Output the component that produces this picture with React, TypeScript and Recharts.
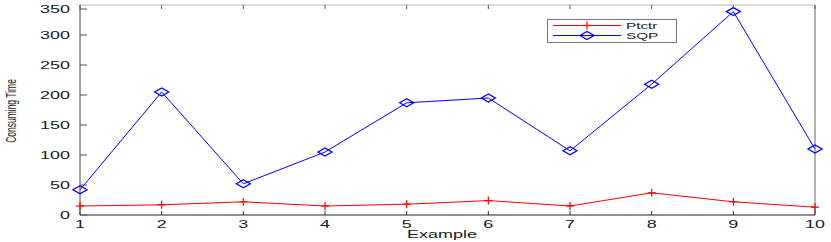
import { Legend, Line, LineChart, XAxis, YAxis } from 'recharts'

const examples = [1, 2, 3, 4, 5, 6, 7, 8, 9, 10]
const ptctr = [15, 17, 22, 15, 18, 24, 15, 37, 22, 13]
const sqp = [42, 205, 52, 105, 187, 195, 107, 218, 339, 110]
const yTicks = [0, 50, 100, 150, 200, 250, 300, 350]

const data = examples.map((x, i) => ({ x, ptctr: ptctr[i], sqp: sqp[i] }))

const FONT = '"Liberation Sans", Arial, sans-serif'
const INK = '#1a1a1a'
const SX = 1.8

function Stretched({ x, y, anchor, size, children, rotate }: any) {
  return (
    <g transform={`translate(${x},${y}) scale(${SX},1)${rotate ? ' rotate(-90)' : ''}`}>
      <text textAnchor={anchor} fontSize={size} fontFamily={FONT} fill={INK}>
        {children}
      </text>
    </g>
  )
}

const LeftTick = ({ x, y, payload }: any) => (
  <g>
    <line x1={x} x2={x + 7} y1={y} y2={y} stroke="#555" />
    <Stretched x={x - 10} y={y + 3.5} anchor="end" size={10}>{payload.value}</Stretched>
  </g>
)

const BottomTick = ({ x, y, payload }: any) => (
  <g>
    <line x1={x} x2={x} y1={y} y2={y - 4} stroke="#333" />
    <Stretched x={x} y={y + 12.5} anchor="middle" size={10}>{payload.value}</Stretched>
  </g>
)

const RightTick = ({ x, y }: any) => <line x1={x} x2={x - 8} y1={y} y2={y} stroke="#666" />
const TopTick = ({ x, y }: any) => <line x1={x} x2={x} y1={y} y2={y + 4} stroke="#555" />

const PlusDot = ({ cx, cy }: any) => (
  <g stroke="#ff0000" strokeWidth={1.2}>
    <line x1={cx - 4} x2={cx + 4} y1={cy} y2={cy} />
    <line x1={cx} x2={cx} y1={cy - 4} y2={cy + 4} />
  </g>
)

const DiamondDot = ({ cx, cy }: any) => (
  <polygon
    points={`${cx - 7},${cy} ${cx},${cy - 4} ${cx + 7},${cy} ${cx},${cy + 4}`}
    fill="none"
    stroke="#0000ff"
    strokeWidth={1.3}
  />
)

function LegendBox() {
  return (
    <svg width={131} height={25} style={{ display: 'block' }}>
      <rect x={0.5} y={0.5} width={129} height={23} fill="#fff" stroke="#777" />
      <line x1={6} x2={74} y1={6.5} y2={6.5} stroke="#ff0000" />
      <PlusDot cx={40} cy={6.5} />
      <Stretched x={79} y={10} anchor="start" size={8.5}>Ptctr</Stretched>
      <line x1={6} x2={74} y1={16.5} y2={16.5} stroke="#0000ff" />
      <DiamondDot cx={40} cy={16.5} />
      <Stretched x={79} y={20} anchor="start" size={8.5}>SQP</Stretched>
    </svg>
  )
}

export default function App() {
  return (
    <div style={{ position: 'absolute', left: 0, top: 0, background: '#fff' }}>
      <LineChart width={831} height={242} data={data} margin={{ top: 0, right: 0, left: 0, bottom: 0 }}>
        <XAxis
          xAxisId="b"
          dataKey="x"
          type="number"
          domain={[1, 10]}
          ticks={examples}
          height={27}
          tickSize={0}
          tickMargin={0}
          axisLine={{ stroke: '#222' }}
          tick={<BottomTick />}
          label={{
            content: () => <Stretched x={442} y={238} anchor="middle" size={10}>Example</Stretched>,
          }}
        />
        <XAxis
          xAxisId="t"
          dataKey="x"
          type="number"
          orientation="top"
          domain={[1, 10]}
          ticks={examples}
          height={5}
          tickSize={0}
          tickMargin={0}
          axisLine={{ stroke: '#bbb' }}
          tick={<TopTick />}
        />
        <YAxis
          yAxisId="l"
          type="number"
          domain={[0, 350]}
          ticks={yTicks}
          width={80}
          tickSize={0}
          tickMargin={0}
          axisLine={{ stroke: '#444' }}
          tick={<LeftTick />}
          label={{
            content: () => <Stretched x={16} y={111} anchor="middle" size={8.5} rotate>Consuming Time</Stretched>,
          }}
        />
        <YAxis
          yAxisId="r"
          orientation="right"
          type="number"
          domain={[0, 350]}
          ticks={yTicks}
          width={16}
          tickSize={0}
          tickMargin={0}
          axisLine={{ stroke: '#666' }}
          tick={<RightTick />}
        />
        <Legend
          layout="horizontal"
          verticalAlign="middle"
          align="center"
          content={() => <LegendBox />}
          wrapperStyle={{ position: 'absolute', left: 547, top: 19, width: 131, height: 25 }}
        />
        <Line
          xAxisId="b"
          yAxisId="l"
          dataKey="ptctr"
          name="Ptctr"
          stroke="#ff0000"
          strokeWidth={1}
          dot={<PlusDot />}
          activeDot={false}
          isAnimationActive={false}
        />
        <Line
          xAxisId="b"
          yAxisId="l"
          dataKey="sqp"
          name="SQP"
          stroke="#0000ff"
          strokeWidth={1}
          dot={<DiamondDot />}
          activeDot={false}
          isAnimationActive={false}
        />
      </LineChart>
    </div>
  )
}
